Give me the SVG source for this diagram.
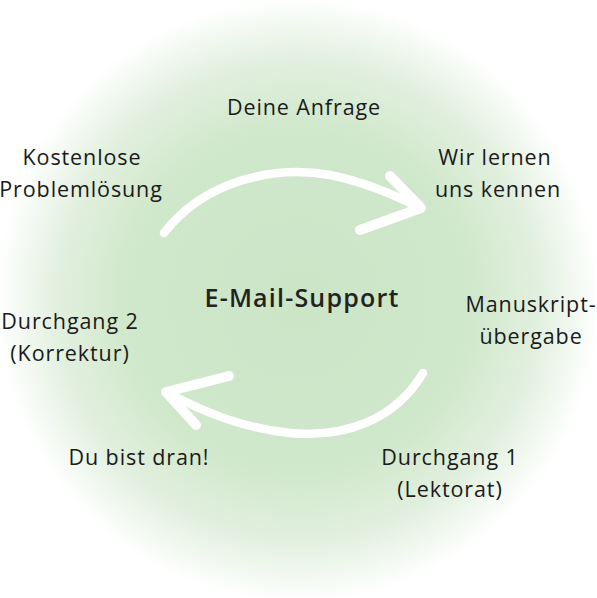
<svg xmlns="http://www.w3.org/2000/svg" width="597" height="598" viewBox="0 0 597 598">
  <defs>
    <radialGradient id="bg" cx="298" cy="300" r="302" gradientUnits="userSpaceOnUse">
      <stop offset="0" stop-color="#cce5c7"/>
      <stop offset="0.55" stop-color="#cfe7ca"/>
      <stop offset="0.8" stop-color="#e2f0df"/>
      <stop offset="1" stop-color="#ffffff"/>
    </radialGradient>
    <style>
      .lbl { font-family: "Open Sans", Lato, "Liberation Sans", sans-serif; font-size: 21.5px; letter-spacing: 0.9px; fill: #1a1a1a; text-anchor: middle; }
      .title { font-family: "Open Sans", Lato, "Liberation Sans", sans-serif; font-size: 25px; letter-spacing: 1.2px; font-weight: 600; fill: #222222; text-anchor: middle; }
      .arr { fill: none; stroke: #ffffff; stroke-width: 8.5; stroke-linecap: round; stroke-linejoin: round; }
      .head { fill: none; stroke: #ffffff; stroke-width: 10; stroke-linecap: round; stroke-linejoin: round; }
    </style>
  </defs>
  <rect width="597" height="598" fill="#ffffff"/>
  <circle cx="298" cy="300" r="302" fill="url(#bg)"/>

  <g id="connectors">
    <path class="arr" d="M164,233 C205,180 275,165 330,175 C365,182 395,195 420,208"/>
    <path class="head" d="M390,176 L421,208 L360,230"/>
    <path class="arr" d="M423,373 C395,420 345,438 290,433 C240,428 200,410 166,392"/>
    <path class="head" d="M229,376 L166,392 L196,425"/>
  </g>

  <g id="center"><text class="title" x="302" y="307">E-Mail-Support</text></g>
  <g id="n-anfrage"><text class="lbl" x="304" y="115">Deine Anfrage</text></g>
  <g id="n-kennen"><text class="lbl" x="495" y="165">Wir lernen</text><text class="lbl" x="498" y="197">uns kennen</text></g>
  <g id="n-manuskript"><text class="lbl" x="531" y="312">Manuskript-</text><text class="lbl" x="531" y="344">übergabe</text></g>
  <g id="n-durchgang1"><text class="lbl" x="450" y="465">Durchgang 1</text><text class="lbl" x="450" y="497">(Lektorat)</text></g>
  <g id="n-dran"><text class="lbl" x="139" y="465">Du bist dran!</text></g>
  <g id="n-durchgang2"><text class="lbl" x="70" y="329">Durchgang 2</text><text class="lbl" x="70" y="361">(Korrektur)</text></g>
  <g id="n-problem"><text class="lbl" x="82" y="165">Kostenlose</text><text class="lbl" x="81" y="197">Problemlösung</text></g>
</svg>
